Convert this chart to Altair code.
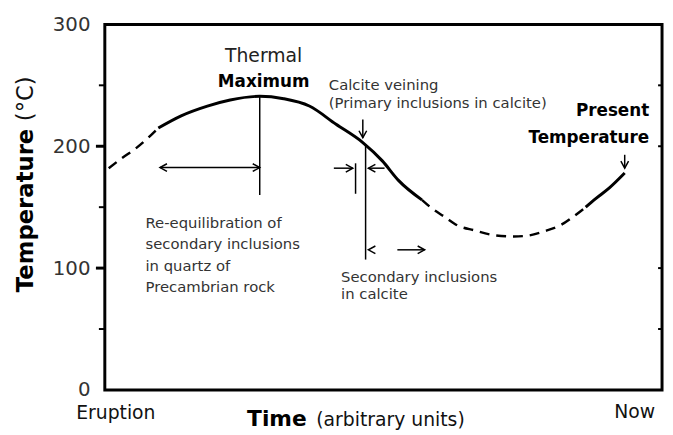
import altair as alt
import pandas as pd

# ---------------- data ----------------
# temperature path (time in arbitrary units 0..100, temperature in deg C)
time = [0.7, 3.0, 5.5, 7.8, 9.6, 13.7, 18.4, 22.5, 27.8, 32.1, 36.7, 41.5, 46.3, 49.8,
        52.7, 56.9, 58.7, 61.0, 63.3, 66.3, 69.9, 73.4, 75.7, 78.7, 81.7, 84.0, 86.3,
        88.1, 90.6, 93.3]
temp = [182, 190, 198, 207, 215, 225, 233, 238, 241, 239, 233, 218, 203, 188,
        172, 156, 149, 142, 135, 131, 127, 126, 126.5, 130, 135, 142, 150,
        157, 166, 178]
# pieces of the path: (first index, last index, style)
seg_start = [0, 4, 15, 26]
seg_end = [4, 15, 26, 29]
seg_style = ["dashed", "solid", "dashed", "solid"]

# annotation lines (vertical markers and arrow shafts)
line_x = [27.8, 46.8, 45.0, 9.9, 41.1, 47.3, 52.5, 46.3, 93.3]
line_x2 = [27.8, 46.8, 45.0, 27.8, 44.5, 50.2, 57.4, 46.3, 93.3]
line_y = [160, 107, 161, 182.5, 182, 182, 115, 222, 193]
line_y2 = [241, 201, 186, 182.5, 182, 182, 115, 207, 182]

# arrow heads
head_x = [9.9, 27.8, 44.5, 47.3, 47.3, 57.4, 46.3, 93.3]
head_y = [182.5, 182.5, 182, 182, 115, 115, 207, 182]
head_dir = ["left", "right", "right", "left", "left", "right", "down", "down"]

# annotation texts
note_text = ["Calcite veining", "(Primary inclusions in calcite)",
             "Re-equilibration of", "secondary inclusions", "in quartz of",
             "Precambrian rock", "Secondary inclusions", "in calcite"]
note_x = [40.2, 40.2, 7.3, 7.3, 7.3, 7.3, 42.4, 42.4]
note_y = [246.5, 231, 133, 115.5, 98, 80.5, 88.4, 74.6]

head_text = ["Maximum", "Present", "Temperature"]
head_text_x = [28.5, 97.7, 97.7]
head_text_y = [248.9, 224.6, 202.7]

y_labels = [0, 100, 200, 300]
major_ticks = [100, 200]
minor_ticks = [50, 150, 250]
right_ticks = [50, 100, 200, 250]

# ---------------- tables ----------------
rows = []
for k, (a, b, s) in enumerate(zip(seg_start, seg_end, seg_style)):
    for i in range(a, b + 1):
        rows.append({"seg": k, "style": s, "order": i, "time": time[i], "temp": temp[i]})
curve_df = pd.DataFrame(rows)
lines_df = pd.DataFrame({"x": line_x, "x2": line_x2, "y": line_y, "y2": line_y2})
heads_df = pd.DataFrame({"x": head_x, "y": head_y, "dir": head_dir})
notes_df = pd.DataFrame({"x": note_x, "y": note_y, "t": note_text})

xs = alt.Scale(domain=[0, 100], nice=False, zero=False)
ys = alt.Scale(domain=[0, 300], nice=False, zero=False)
y_axis = alt.Axis(values=y_labels, ticks=False, domain=False, grid=False, title=None,
                  labelFont="DejaVu Sans", labelFontSize=20, labelColor="#333",
                  labelPadding=15)


def bx(f):
    return alt.X(f, type="quantitative", scale=xs, axis=None)


def by(f):
    return alt.Y(f, type="quantitative", scale=ys, axis=y_axis, title=None)


solid = alt.Chart(curve_df).transform_filter("datum.style == 'solid'").mark_line(
    color="black", strokeWidth=3, interpolate="monotone"
).encode(x=bx("time"), y=by("temp"), detail="seg:N", order="order:Q")

dashed = alt.Chart(curve_df).transform_filter("datum.style == 'dashed'").mark_line(
    color="black", strokeWidth=2.5, strokeDash=[10, 7], interpolate="monotone"
).encode(x=bx("time"), y=by("temp"), detail="seg:N", order="order:Q")

rules = alt.Chart(lines_df).mark_rule(color="black", strokeWidth=1.5).encode(
    x=bx("x"), x2="x2:Q", y=by("y"), y2="y2:Q")

heads = alt.Chart(heads_df).mark_point(filled=False, color="black", strokeWidth=1.5,
                                       size=200, opacity=1).encode(
    x=bx("x"), y=by("y"),
    shape=alt.Shape("dir:N", legend=None, scale=alt.Scale(
        domain=["left", "right", "down"],
        range=["M1,-0.55L0,0L1,0.55", "M-1,-0.55L0,0L-1,0.55", "M-0.55,-1L0,0L0.55,-1"])),
)

notes = alt.Chart(notes_df).mark_text(
    align="left", baseline="alphabetic", font="DejaVu Sans", fontSize=15, color="#333"
).encode(x=bx("x"), y=by("y"), text="t:N")

thermal = alt.Chart(pd.DataFrame({"x": [28.5], "y": [269.2], "t": ["Thermal"]})).mark_text(
    align="center", baseline="alphabetic", font="DejaVu Sans", fontSize=19, color="#222"
).encode(x=bx("x"), y=by("y"), text="t:N")

hdf = pd.DataFrame({"x": head_text_x, "y": head_text_y, "t": head_text})
maximum = alt.Chart(hdf.iloc[[0]]).mark_text(
    align="center", baseline="alphabetic", font="DejaVu Sans", fontSize=17,
    fontWeight="bold", color="black"
).encode(x=bx("x"), y=by("y"), text="t:N")
present = alt.Chart(hdf.iloc[[1, 2]]).mark_text(
    align="right", baseline="alphabetic", font="DejaVu Sans", fontSize=17,
    fontWeight="bold", color="black"
).encode(x=bx("x"), y=by("y"), text="t:N")

tick_major = alt.Chart(pd.DataFrame({"v": major_ticks})).mark_rule(
    color="black", strokeWidth=3).encode(
    y=by("v"), x=alt.value(-9), x2=alt.value(0))
tick_minor = alt.Chart(pd.DataFrame({"v": minor_ticks})).mark_rule(
    color="black", strokeWidth=2).encode(
    y=by("v"), x=alt.value(-6), x2=alt.value(0))
tick_right = alt.Chart(pd.DataFrame({"v": right_ticks})).mark_rule(
    color="black", strokeWidth=2).encode(
    y=by("v"), x=alt.value(560), x2=alt.value(564))

lab_df = pd.DataFrame({"t": ["x"]})


def label(text, x, y, size, weight="normal", align="left", angle=0, color="black"):
    kw = dict(align=align, baseline="alphabetic", font="DejaVu Sans", fontSize=size,
              fontWeight=weight, color=color, text=text)
    if angle:
        kw["angle"] = angle
    return alt.Chart(lab_df).mark_text(**kw).encode(x=alt.value(x), y=alt.value(y))


eruption = label("Eruption", -29, 399, 19, color="#111")
now = label("Now", 557, 398, 19, align="right", color="#111")
time_t = label("Time", 144, 406, 22, weight="bold")
units_t = label("(arbitrary units)", 214, 406, 19, color="#111")
ytitle1 = label("Temperature", -73, 271, 23, weight="bold", angle=270)
ytitle2 = label("(°C)", -73, 98, 23, angle=270, color="#111")

chart = alt.layer(
    solid, dashed, rules, heads, notes, thermal, maximum, present,
    tick_major, tick_minor, tick_right,
    eruption, now, time_t, units_t, ytitle1, ytitle2,
).properties(
    width=564, height=370,
    autosize=alt.AutoSizeParams(type="none"),
    padding={"left": 98, "top": 14, "right": 3, "bottom": 43},
    background="white",
).configure_view(stroke="black", strokeWidth=3)

chart.save("out.html", embed_options={"renderer": "svg", "actions": False})
